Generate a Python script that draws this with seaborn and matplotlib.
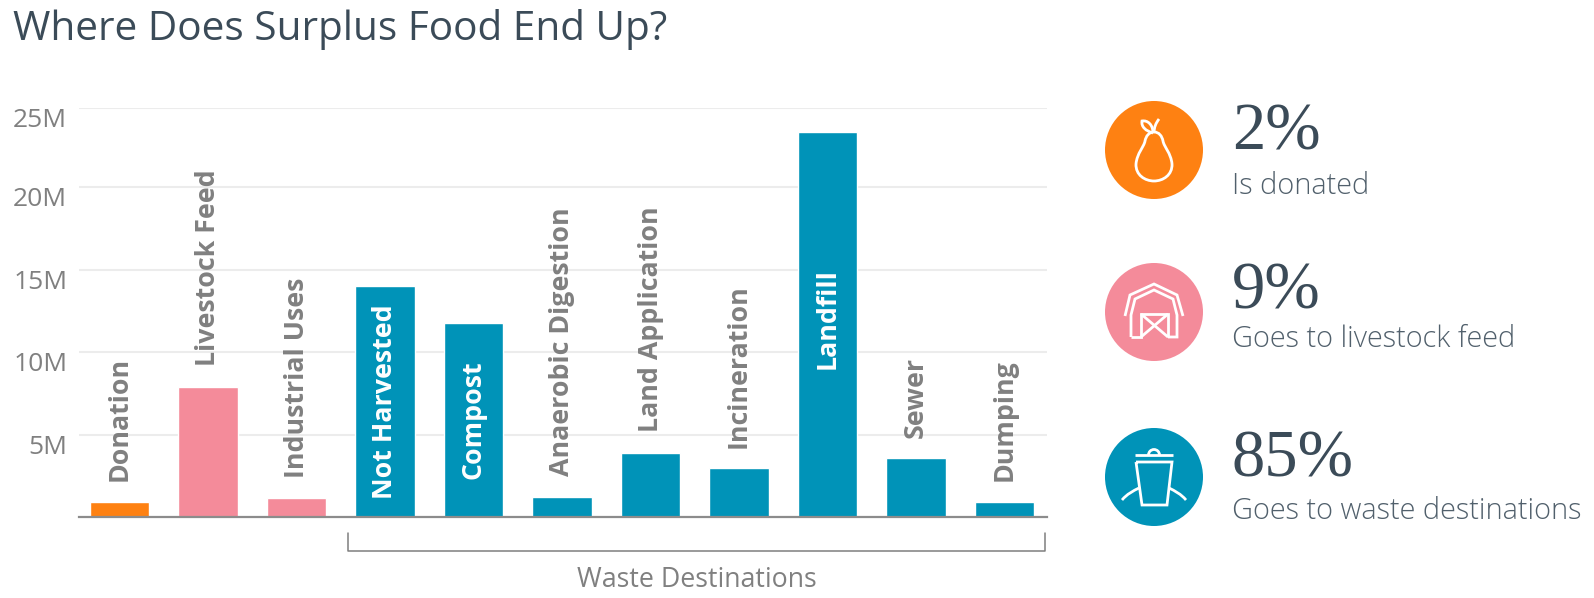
import matplotlib
matplotlib.use("Agg")
import pandas as pd
import matplotlib.pyplot as plt
import seaborn as sns
from matplotlib.patches import Circle, Arc, PathPatch
from matplotlib.path import Path

categories = ["Donation", "Livestock Feed", "Industrial Uses", "Not Harvested", "Compost",
              "Anaerobic Digestion", "Land Application", "Incineration", "Landfill",
              "Sewer", "Dumping"]
values = [0.89, 7.9, 1.13, 14.0, 11.75, 1.23, 3.9, 2.95, 23.35, 3.55, 0.89]
groups = ["donate", "feed", "feed", "waste", "waste", "waste", "waste", "waste", "waste", "waste", "waste"]
inside_bar = ["Not Harvested", "Compost", "Landfill"]
# the top gridline sits a little under 25M in the original
y_ticks = [5, 10, 15, 20, 24.8]
y_labels = ["5M", "10M", "15M", "20M", "25M"]

stat_values = ["2%", "9%", "85%"]
stat_labels = ["Is donated", "Goes to livestock feed", "Goes to waste destinations"]

ORANGE = "#fe8112"
PINK = "#f48b9a"
BLUE = "#0093b8"
DARK = "#3b4b58"
GREY = "#808080"
palette = {"donate": ORANGE, "feed": PINK, "waste": BLUE}

W, H = 1594, 598
sns.set_theme(style="white")
plt.rcParams["font.family"] = ["Open Sans", "DejaVu Sans"]

fig = plt.figure(figsize=(W / 100, H / 100), dpi=100, facecolor="white")

# axes box in pixels: left 79, right 1047, baseline 517, top gridline at 108
ax = fig.add_axes([79 / W, 1 - 517 / H, 968 / W, 409 / H])
df = pd.DataFrame({"category": categories, "value": values, "group": groups})
sns.barplot(data=df, x="category", y="value", hue="group", palette=palette, dodge=False,
            legend=False, width=0.675, saturation=1, ax=ax, zorder=3)
ax.set_xlim(-0.4576, 10.48)
ax.set_ylim(0, 24.8)
ax.set_xlabel("")
ax.set_ylabel("")
ax.set_xticks([])
ax.set_yticks(y_ticks)
ax.set_yticklabels(y_labels, fontsize=19, color=GREY, va="top")
ax.tick_params(left=False, bottom=False, pad=2.5)
for s in ["top", "right", "left"]:
    ax.spines[s].set_visible(False)
ax.spines["bottom"].set_color("#8c8c8c")
ax.spines["bottom"].set_linewidth(1.6)
ax.spines["bottom"].set_zorder(4)
ax.yaxis.grid(True, color="#ececec", linewidth=1.5, zorder=0)
ax.set_axisbelow(True)
ax.patch.set_alpha(0)

# bar labels: centred inside the tall bars, above the others
for i, (cat, val) in enumerate(zip(categories, values)):
    if cat in inside_bar:
        nudge = 4 if cat == "Landfill" else 0
        ax.annotate(cat, (i, val / 2), xytext=(0, nudge), textcoords="offset points", rotation=90,
                    ha="center", va="center", color="white", fontsize=19.3, fontweight="bold", zorder=5)
    else:
        ax.annotate(cat, (i, val), xytext=(0, 15), textcoords="offset points", rotation=90,
                    ha="center", va="bottom", color=GREY, fontsize=19.3, fontweight="bold", zorder=5)

# overlay in pixel coordinates for the title, bracket and icons
ov = fig.add_axes([0, 0, 1, 1])
ov.set_xlim(0, W)
ov.set_ylim(H, 0)
ov.axis("off")
ov.patch.set_alpha(0)

ov.text(13, 30, "Where Does Surplus Food End Up?", fontsize=29.2, color=DARK, va="center", ha="left")

ov.plot([348, 348, 1045, 1045], [533, 551, 551, 533], color="#7f7f7f", lw=1.1)
ov.text(697, 580, "Waste Destinations", fontsize=19.3, color=GREY, ha="center", va="center")

centers = [(1154, 150), (1154, 312), (1154, 477)]
for (cx, cy), col in zip(centers, [ORANGE, PINK, BLUE]):
    ov.add_patch(Circle((cx, cy), 49, color=col, lw=0))

stat_y = [133, 292, 460]
lab_y = [186, 339, 511]
for v, l, y1, y2 in zip(stat_values, stat_labels, stat_y, lab_y):
    ov.text(1232, y1, v, fontsize=48, family="Liberation Serif", color=DARK, va="center", ha="left")
    ov.text(1232, y2, l, fontsize=20.8, color="#51606c", va="center", ha="left", fontweight="light")


def stroke(cx, cy, verts, codes=None):
    # white icon stroke, verts given relative to the circle centre
    pts = [(cx + x, cy + y) for x, y in verts]
    ov.add_patch(PathPatch(Path(pts, codes), fill=False, ec="white", lw=2.0,
                           capstyle="butt", joinstyle="miter"))


M, L, C = Path.MOVETO, Path.LINETO, Path.CURVE4

# pear
cx, cy = centers[0]
stroke(cx, cy, [(0, -18), (5, -18), (8, -14), (9, -9), (10, -3), (17, 3), (18, 14),
                (18.5, 25), (9, 31), (0, 31), (-9, 31), (-18.5, 25), (-18, 14),
                (-17, 3), (-10, -3), (-9, -9), (-8, -14), (-5, -18), (0, -18)],
       [M] + [C] * 18)
stroke(cx, cy, [(-1, -17), (-8, -19), (-13, -23), (-12, -29), (-6, -30), (-1, -25), (-1, -17)],
       [M] + [C] * 6)
stroke(cx, cy, [(0, -17), (0, -23), (2, -27), (5, -31)], [M, C, C, C])

# barn
cx, cy = centers[1]
stroke(cx, cy, [(-29, 4), (-24, -17), (0, -28), (23, -17), (29, 4)])
stroke(cx, cy, [(-23, 25), (-23, 3), (-19, -13), (0, -22), (19, -13), (23, 3), (23, 25), (14, 25)])
stroke(cx, cy, [(-23, 25), (-13, 25), (-13, 2), (14, 2), (14, 25)])
stroke(cx, cy, [(-13, 25), (14, 2)])
stroke(cx, cy, [(-13, 2), (14, 25)])

# bin
cx, cy = centers[2]
stroke(cx, cy, [(-19, -22), (19, -22)])
ov.add_patch(Arc((cx, cy - 22), 11, 11, theta1=180, theta2=360, ec="white", lw=2.0))
stroke(cx, cy, [(-18, -15), (18, -15), (13, 28), (-12, 28), (-18, -15)])
stroke(cx, cy, [(-32, 23), (-27, 17), (-21, 14), (-15, 11)], [M, C, C, C])
stroke(cx, cy, [(32, 23), (27, 17), (21, 14), (15, 11)], [M, C, C, C])

fig.savefig("out.png", dpi=100, facecolor="white")
